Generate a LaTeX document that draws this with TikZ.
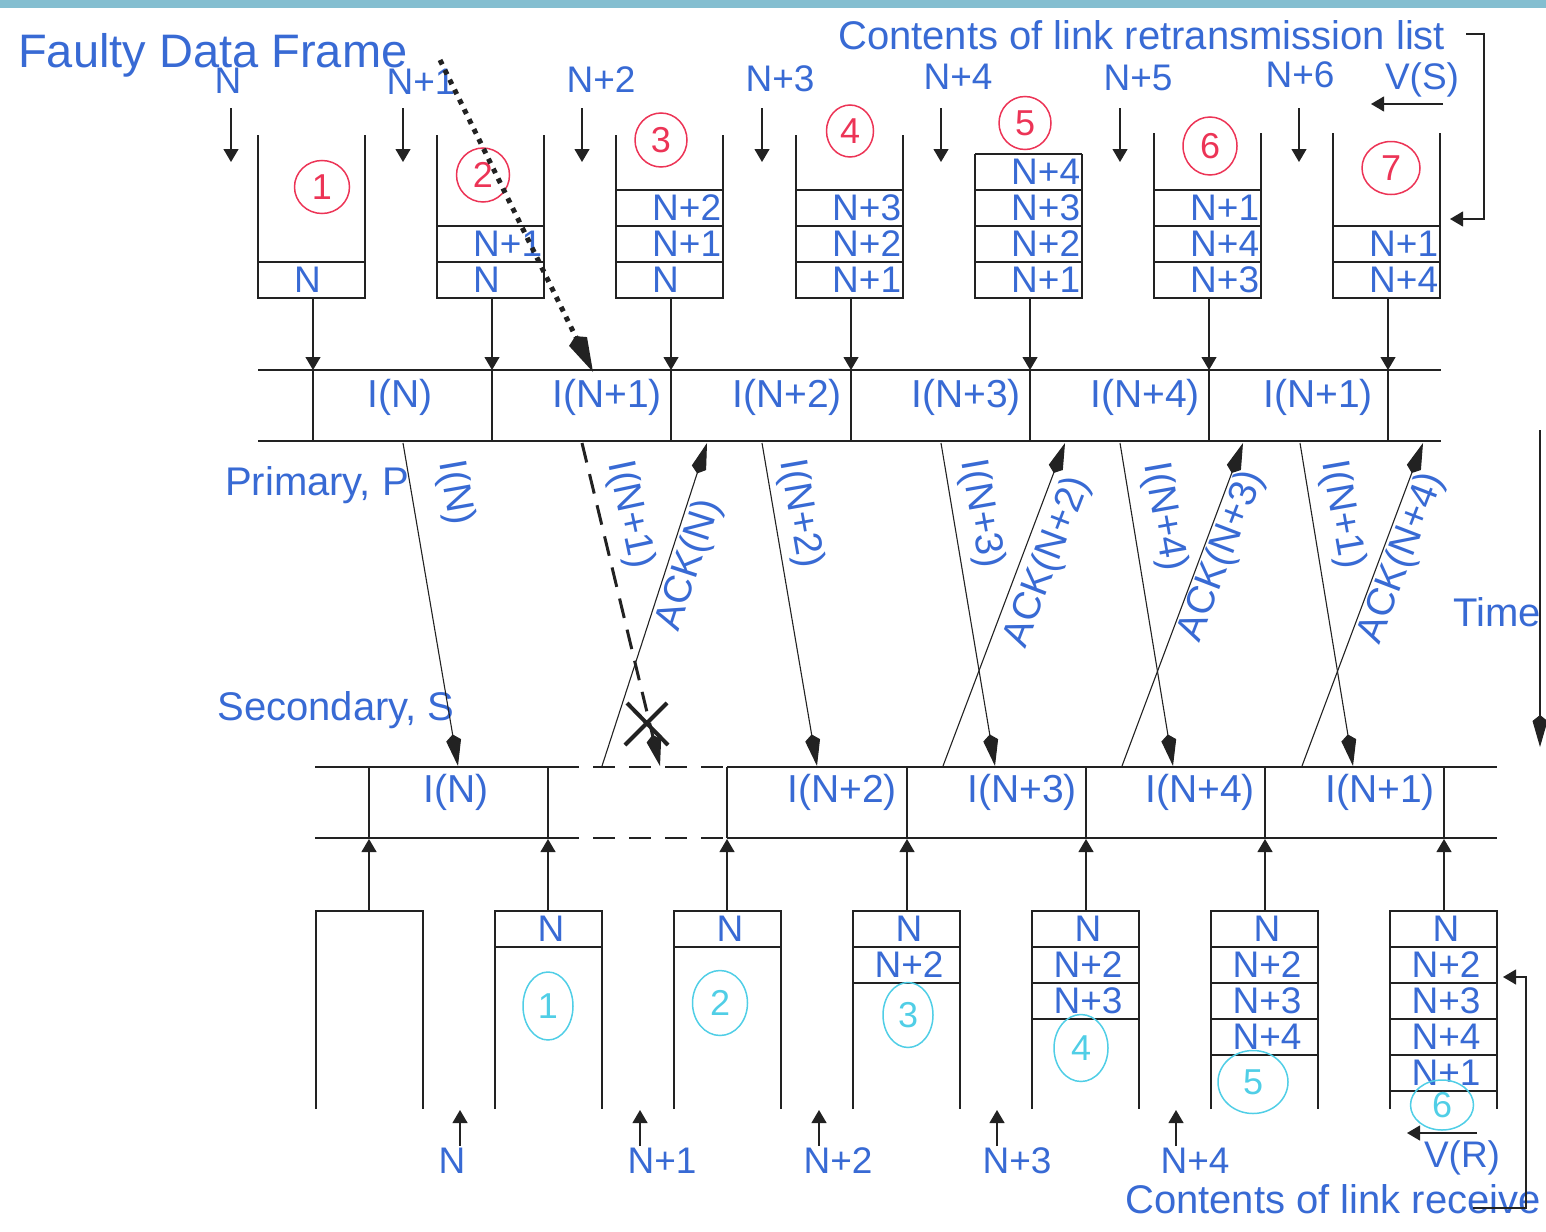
\documentclass[tikz,border=0pt]{standalone}
\usepackage{fontspec}
\setmainfont{Liberation Sans}
\usetikzlibrary{arrows.meta,shapes.geometric}
\definecolor{inkblue}{RGB}{56,106,212}
\definecolor{penred}{RGB}{236,52,86}
\definecolor{pencyan}{RGB}{80,206,230}
\definecolor{scanband}{RGB}{132,190,208}
\definecolor{ink}{RGB}{34,34,34}
\newcommand{\lblfont}{\fontsize{37}{40}\selectfont}
\newcommand{\chanfont}{\fontsize{39}{42}\selectfont}
\newcommand{\headfont}{\fontsize{40}{44}\selectfont}
\tikzset{
  lbl/.style={text=inkblue,font=\lblfont,inner sep=0pt},
  chan/.style={text=inkblue,font=\chanfont,inner sep=0pt},
  heading/.style={text=inkblue,font=\headfont,inner sep=0pt},
  wall/.style={draw=ink,line width=1.8pt},
  feed/.style={draw=ink,line width=1.2pt,-{Triangle[length=13pt,width=15pt]}},
  sigline/.style={draw=ink,line width=1.1pt,-{Kite[length=32pt,width=15pt,inset=6pt]}},
  penring/.style={ellipse,draw=#1,text=#1,line width=1.5pt,inner sep=0pt,font=\fontsize{36}{38}\selectfont},
}
\begin{document}
\begin{tikzpicture}
    \pgfsetxvec{\pgfpoint{1pt}{0}}
    \pgfsetyvec{\pgfpoint{0}{-1pt}}
    \useasboundingbox (0,0) rectangle (1546,1231);
    \fill[scanband] (0,0) rectangle (1546,8);

    \draw (18,67) node[heading,anchor=base west,font=\fontsize{47}{50}\selectfont] (faulty) {Faulty Data Frame};
    \draw (838,50) node[heading,anchor=base west] (retx) {Contents of link retransmission list};
    \draw (1125,1213) node[heading,anchor=base west] (recv) {Contents of link receive};
    \draw (317,485) node[heading] (prim) {Primary, P};
    \draw (336,710) node[heading] (sec) {Secondary, S};
    \draw (1497,612) node[heading] (time) {Time};

    % send side: V(S) values and retransmission lists
    \foreach \x/\y/\t/\ax [count=\i] in {228/81/N/231,421/82/N+1/403,601/80/N+2/582,780/79/N+3/762,958/77/N+4/941,1138/78/N+5/1120,1300/75/N+6/1299} {
      \draw (\x,\y) node[lbl] (vs\i) {\t};
      \draw[feed] (\ax,108) -- (\ax,162);
    }
    \draw (1422,80) node[lbl] (vsnow) {V(S)};
    \draw[feed] (1443,104) -- (1371,104);
    \draw[feed] (1466,34) -- (1484,34) -- (1484,219) -- (1450,219);
    \foreach \x/\top/\rows [count=\i] in {258/135/{N},437/135/{N,N+1},616/135/{N,N+1,N+2},796/135/{N+1,N+2,N+3},975/154/{N+1,N+2,N+3,N+4},1154/133/{N+3,N+4,N+1},1333/133/{N+4,N+1}} {
      \draw[wall] (\x,\top) -- (\x,298) -- (\x+107,298) -- (\x+107,\top);
      \foreach \r [count=\k] in \rows {
        \draw[wall] (\x,298-36*\k) -- (\x+107,298-36*\k);
        \draw (\x+36,316-36*\k) node[lbl,anchor=west] (tx\i-\k) {\r};
      }
      \draw[feed] (\x+55,298) -- (\x+55,370);
      \draw[wall,line width=1.2pt] (\x+55,370) -- (\x+55,441);
    }
    \foreach \x/\y/\w/\h/\n in {322/187/55/53/1,483/175/53/54/2,661/140/52/54/3,850/131/47/52/4,1025/123/52/53/5,1210/146/54/58/6,1391/168/58/53/7} {
      \draw (\x,\y) node[penring=penred,minimum width=\w pt,minimum height=\h pt] (sent\n) {\n};
    }

    \draw[wall] (258,370) -- (1441,370) (258,441) -- (1441,441);
    \foreach \x/\t [count=\i] in {400/I(N),607/I(N+1),787/I(N+2),966/I(N+3),1145/I(N+4),1318/I(N+1)} {
      \draw (\x,397) node[chan] (pf\i) {\t};
    }

    % frames down, acknowledgements up
    \foreach \a/\b/\lx/\ly/\t [count=\i] in {403/458/455/493/I(N),762/817/800/514/I(N+2),941/995/981/514/I(N+3),1120/1173/1164/517/I(N+4),1300/1353/1342/515/I(N+1)} {
      \draw[sigline] (\a,443) -- (\b,766);
      \draw (\lx,\ly) node[chan,rotate=-80] (dn\i) {\t};
    }
    \foreach \a/\b/\lx/\ly/\r/\t [count=\i] in {602/707/690/565/72/ACK(N),943/1065/1048/562/69/ACK(N+2),1122/1243/1222/556/69/ACK(N+3),1302/1423/1402/558/69/ACK(N+4)} {
      \draw[sigline] (\a,766) -- (\b,443);
      \draw (\lx,\ly) node[chan,rotate=\r] (up\i) {\t};
    }
    \draw[sigline,line width=3pt,dash pattern=on 20pt off 12pt] (582,443) -- (660,766);
    \draw (630,515) node[chan,rotate=-78] (lost) {I(N+1)};
    \draw[ink,line width=4pt] (627,703) -- (668,745) (667,703) -- (625,745);
    \draw[ink,line width=5pt,dash pattern=on 5pt off 6pt,-{Kite[length=40pt,width=20pt,inset=6pt]}] (440,60) -- (593,372);
    \draw[sigline] (1540,430) -- (1540,747);

    % receive side
    \draw[wall] (315,767) -- (557,767) (727,767) -- (1497,767);
    \draw[wall] (315,838) -- (557,838) (727,838) -- (1497,838);
    \draw[wall,line width=1.5pt,dash pattern=on 22pt off 14pt] (557,767) -- (727,767) (557,838) -- (727,838);
    \foreach \x/\t [count=\i] in {456/I(N),842/I(N+2),1022/I(N+3),1200/I(N+4),1380/I(N+1)} {
      \draw (\x,792) node[chan] (sf\i) {\t};
    }
    \foreach \x in {369,548,727,907,1086,1265,1444} {
      \draw[wall,line width=1.2pt] (\x,767) -- (\x,838);
      \draw[feed] (\x,911) -- (\x,839);
    }
    \draw[wall] (316,1109) -- (316,911) -- (423,911) -- (423,1109);
    \foreach \x/\rows [count=\i] in {495/{N},674/{N},853/{N,N+2},1032/{N,N+2,N+3},1211/{N,N+2,N+3,N+4},1390/{N,N+2,N+3,N+4,N+1}} {
      \draw[wall] (\x,1109) -- (\x,911) -- (\x+107,911) -- (\x+107,1109);
      \foreach \r [count=\k] in \rows {
        \draw[wall] (\x,911+36*\k) -- (\x+107,911+36*\k);
        \draw (\x+56,893+36*\k) node[lbl] (rx\i-\k) {\r};
      }
    }
    \foreach \x/\y/\w/\h/\n in {548/1006/50/68/1,720/1003/55/65/2,908/1015/50/65/3,1081/1048/54/67/4,1253/1082/70/63/5,1442/1105/63/50/6} {
      \draw (\x,\y) node[penring=pencyan,minimum width=\w pt,minimum height=\h pt] (got\n) {\n};
    }
    \foreach \x/\t/\ax [count=\i] in {452/N/460,662/N+1/640,838/N+2/819,1017/N+3/997,1195/N+4/1176} {
      \draw (\x,1161) node[lbl] (vr\i) {\t};
      \draw[feed] (\ax,1146) -- (\ax,1110);
    }
    \draw (1462,1158) node[lbl] (vrnow) {V(R)};
    \draw[feed] (1477,1133) -- (1407,1133);
    \draw[feed] (1473,1208) -- (1526,1208) -- (1526,977) -- (1503,977);
  \end{tikzpicture}
\end{document}
